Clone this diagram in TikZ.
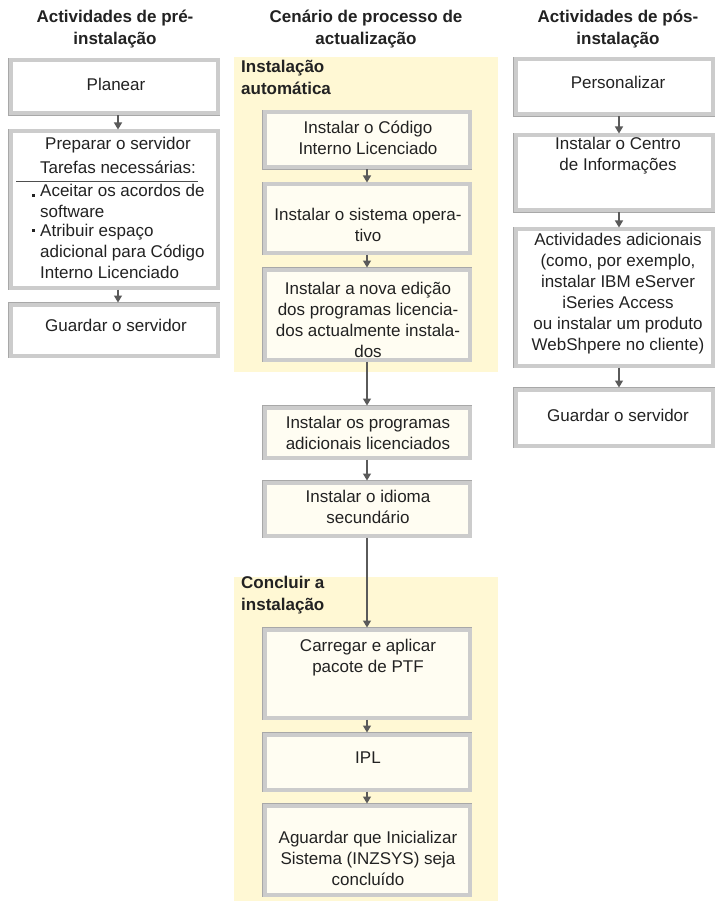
\documentclass[tikz,border=0pt]{standalone}
\usepackage{fontspec}
\setmainfont{Liberation Sans}
\usetikzlibrary{arrows.meta}
\definecolor{zone}{HTML}{FFF8D4}
\definecolor{cream}{HTML}{FFFDF2}
\definecolor{ink}{HTML}{222222}
\definecolor{conn}{HTML}{5A5A5A}
\begin{document}
\begin{tikzpicture}[x=1pt,y=-1pt,
  box/.style={preaction={draw=gray!68, line width=5.6pt}, draw=gray!40, line width=4pt, fill=white, inner sep=0pt},
  cbox/.style={box, fill=cream},
  txt/.style={font=\fontsize{17}{21}\selectfont, text=ink, align=center, inner sep=0pt},
  hdr/.style={font=\fontsize{17}{22}\selectfont\bfseries, text=ink, align=center, inner sep=0pt},
  zlab/.style={hdr, align=left, anchor=west},
  arr/.style={draw=conn, line width=1.2pt, -{Triangle[width=8pt,length=7pt]}}]
\useasboundingbox[fill=white] (0,0) rectangle (717,901);
% zones
\fill[zone] (234,57) rectangle (498,372);
\fill[zone] (234,577) rectangle (498,901);
% headers
\node[hdr] (h1) at (115,29) {Actividades de pré-\\instalação};
\node[hdr] (h2) at (366,29) {Cenário de processo de\\actualização};
\node[hdr] (h3) at (618,29) {Actividades de pós-\\instalação};
\node[zlab] (z1) at (241,77) {Instalação\\automática};
\node[zlab] (z2) at (241,595) {Concluir a\\instalação};
% left boxes
\node[box, minimum width=207pt, minimum height=53pt] (L1) at (114,87) {};
\node[box, minimum width=207pt, minimum height=156pt] (L2) at (114,209.5) {};
\node[box, minimum width=207pt, minimum height=51pt] (L3) at (114,330) {};
% middle boxes
\node[cbox, minimum width=205pt, minimum height=55pt] (M1) at (367,140) {};
\node[cbox, minimum width=205pt, minimum height=68pt] (M2) at (367,218.5) {};
\node[cbox, minimum width=205pt, minimum height=90pt] (M3) at (367,314.5) {};
\node[cbox, minimum width=205pt, minimum height=50pt] (M4) at (367,432.5) {};
\node[cbox, minimum width=205pt, minimum height=53pt] (M5) at (367,509) {};
\node[cbox, minimum width=205pt, minimum height=88pt] (M6) at (367,673.5) {};
\node[cbox, minimum width=205pt, minimum height=55pt] (M7) at (367,762) {};
\node[cbox, minimum width=205pt, minimum height=89pt] (M8) at (367,850) {};
% right boxes
\node[box, minimum width=197pt, minimum height=55pt] (R1) at (614,87) {};
\node[box, minimum width=197pt, minimum height=75pt] (R2) at (614,173) {};
\node[box, minimum width=197pt, minimum height=136pt] (R3) at (614,297.5) {};
\node[box, minimum width=197pt, minimum height=56pt] (R4) at (614,417.5) {};
% texts left
\node[txt] (tL1) at (116,84) {Planear};
\node[txt] (tL2a) at (118,145) {Preparar o servidor};
\node[txt] (tL2b) at (118,167) {Tarefas necessárias:};
\draw[ink!80, line width=0.8pt] (16,181) -- (198,181);
\fill[ink] (32,194) rectangle (35,197);
\fill[ink] (32,229) rectangle (35,232);
\node[txt, align=left, anchor=west] (tL2c) at (40,201) {Aceitar os acordos de\\software};
\node[txt, align=left, anchor=west] (tL2d) at (40,251.5) {Atribuir espaço\\adicional para Código\\Interno Licenciado};
\node[txt] (tL3) at (116,325) {Guardar o servidor};
% texts middle
\node[txt] (tM1) at (368,137.5) {Instalar o Código\\Interno Licenciado};
\node[txt] (tM2) at (368,225) {Instalar o sistema opera-\\tivo};
\node[txt] (tM3) at (368,319.5) {Instalar a nova edição\\dos programas licencia-\\dos actualmente instala-\\dos};
\node[txt] (tM4) at (368,432.5) {Instalar os programas\\adicionais licenciados};
\node[txt] (tM5) at (368,507) {Instalar o idioma\\secundário};
\node[txt] (tM6) at (368,657.5) {Carregar e aplicar\\pacote de PTF};
\node[txt] (tM7) at (368,758) {IPL};
\node[txt] (tM8) at (368,858) {Aguardar que Inicializar\\Sistema (INZSYS) seja\\concluído};
% texts right
\node[txt] (tR1) at (618,82) {Personalizar};
\node[txt] (tR2) at (618,156) {Instalar o Centro\\de Informações};
\node[txt] (tR3) at (618,294) {Actividades adicionais\\(como, por exemplo,\\instalar IBM eServer\\iSeries Access\\ou instalar um produto\\WebShpere no cliente)};
\node[txt] (tR4) at (618,415) {Guardar o servidor};
% connectors
\draw[arr] ([xshift=4pt]L1.south) -- ([xshift=4pt]L2.north);
\draw[arr] ([xshift=4pt]L2.south) -- ([xshift=4pt]L3.north);
\draw[arr] (M1.south) -- (M2.north);
\draw[arr] (M2.south) -- (M3.north);
\draw[arr] (M3.south) -- (M4.north);
\draw[arr] (M4.south) -- (M5.north);
\draw[arr] (M5.south) -- (M6.north);
\draw[arr] (M6.south) -- (M7.north);
\draw[arr] (M7.south) -- (M8.north);
\draw[arr] ([xshift=5pt]R1.south) -- ([xshift=5pt]R2.north);
\draw[arr] ([xshift=5pt]R2.south) -- ([xshift=5pt]R3.north);
\draw[arr] ([xshift=5pt]R3.south) -- ([xshift=5pt]R4.north);
\end{tikzpicture}
\end{document}
